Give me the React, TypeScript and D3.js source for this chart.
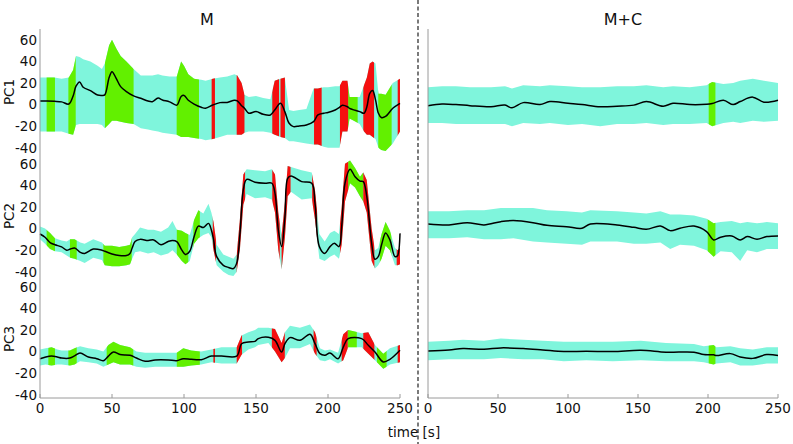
import * as d3 from 'd3';

// ---- data (time in s, values per PC) ----

// M, PC1
const mPc1T = [0, 5, 10, 15, 20, 23, 25, 27.5, 30, 35, 40, 43, 45, 48, 50, 53, 56, 60, 65, 70, 75, 78, 82, 85, 90, 95, 98, 100, 103, 107, 112, 115, 120, 125, 130, 135, 137, 140, 142, 145, 150, 155, 160, 163, 167, 170, 173, 176, 180, 185, 190, 193, 197, 200, 205, 208, 210, 213.5, 215, 222, 225, 227, 229, 231, 233, 235, 237, 240, 245, 250];
const mPc1Mean = [3.3, 3.3, 3, 2.5, 0.5, 8, 17, 21, 16, 12.9, 8.9, 8.5, 9, 25, 30.5, 24, 16.6, 12, 8, 5.8, 3.3, 2.7, 6, 4.3, 2.5, -0.5, 7.5, 8.5, 4, 0.5, -2.5, -3.4, -0.4, 1.8, 2, 4, 3.5, -1, -3.4, -8, -6.5, -9, -9.6, -5, 1.2, -6.5, -17.3, -20.4, -19.8, -18.9, -15.8, -9.6, -8, -7.3, -5, -2.5, -0.6, -2, -3.5, -6.5, -8, -2, 10.4, 13, 4.3, -8, -12, -11, -3.4, 1.2];
const mPc1Hi = [25, 25, 25, 24, 25, 32, 45, 44, 42, 40, 36, 33, 38, 55, 60, 52, 45, 40, 33, 27, 27, 27, 28, 27, 26, 26, 40, 36, 28, 24, 23, 22, 24, 25, 26, 28, 27, 20, 9, 7, 8, 6, 5, 22, 24, 25, -5, -6, -5, -4, 15, 15, 16, 16, 17, 17, 22, 22, 7, 7, 18, 25, 38, 40, 38, 10, 10, 9, 20, 24];
const mPc1Lo = [-25, -25, -25, -25, -27, -28, -19, -18, -18, -18, -18, -19, -22, -18, -15, -15, -16, -17, -18, -22, -23, -24, -25, -26, -27, -28, -30, -30, -30, -31, -32, -33, -32, -30, -28, -28, -28, -28, -26, -25, -25, -25, -26, -28, -30, -31, -34, -34, -35, -36, -37, -37, -39, -40, -40, -40, -25, -25, -13, -18, -25, -28, -28, -30, -32, -40, -42, -43, -36, -25];
const mPc1Green = [[4.6, 10.4], [19.7, 24.8], [45.1, 65], [94.9, 110.4], [214, 220.6], [234.9, 244.2]];
const mPc1Red = [[119.2, 121.5], [136.6, 142], [161.3, 166], [167, 170.1], [190.3, 195.6], [208.3, 214], [224.5, 232], [248.4, 250]];

// M, PC2
const mPc2T = [0, 3.5, 7, 10.4, 15, 18.5, 21, 24, 28, 31, 37, 43, 45, 50, 55, 60, 62.5, 64, 66, 69.5, 75, 79, 84, 89, 92, 95, 98.5, 101, 104, 107, 110, 113.4, 117, 119, 120.5, 122.7, 127.3, 131, 134.3, 136.6, 138.9, 141.2, 143.5, 149.3, 156.3, 161, 163.2, 165.5, 167.8, 170.1, 172, 174.3, 181.7, 188.7, 191, 194, 197.7, 201.4, 204.4, 207.6, 209.5, 211.8, 215.3, 218.8, 222.2, 224.5, 226.9, 230.3, 232.6, 234.9, 237.2, 240, 243, 246.5, 248.4, 250];
const mPc2Mean = [-5, -8, -13, -15, -17, -20, -19, -18, -22, -23, -19, -20, -21, -23.5, -25, -25, -23, -18, -12, -10, -11, -10.5, -15, -12, -11, -12, -20, -24, -21, -7.5, 2.3, 1, 4.8, -1.3, -10, -26, -34, -36, -37, -32, -4, 36, 45.6, 43, 42, 42, 32.6, -1.3, -16.7, 11, 46.5, 48.7, 43.5, 42, 23, -16.7, -23, -16.7, -13.6, -16.7, 1.8, 42, 55, 48, 44, 43.5, 30, -13.6, -28.4, -26, -15, -4, -10.5, -26, -25, -4.4];
const mPc2Hi = [2, 0, -4, -9, -11, -12, -10, -10, -13, -14, -10, -13, -16, -16, -17, -16, -15, -8, -5, 1, -1, -1, -3, 1, 7, -1, -2, -4, -6, 8, 17, 14, 23, 15, 6, -15, -24, -26, -28, -24, 10, 50, 55, 54, 53, 55, 50, 15, -6, 25, 58, 57, 54, 52, 35, -5, -12, -4, -2, -5, 20, 60, 63, 56, 48, 52, 45, 0, -20, -18, -5, 6, -2, -18, -20, -18];
const mPc2Lo = [-10, -14, -19, -21, -22, -25, -27, -28, -30, -32, -27, -29, -34, -35, -35, -34, -33, -28, -22, -21, -23, -22, -25, -23, -20, -24, -30, -33, -30, -14, -9, -6, -4, -8, -20, -34, -40, -43, -44, -40, -18, 22, 32, 28, 29, 27, 15, -20, -38, -8, 30, 34, 27, 28, 8, -28, -30, -26, -24, -28, -15, 25, 42, 38, 30, 25, 15, -30, -37, -34, -28, -16, -20, -34, -34, -33];
const mPc2Green = [[4.6, 10.4], [20.8, 25.5], [44, 63.7], [95, 103], [106.5, 111], [214, 224.5], [236, 244]];
const mPc2Red = [[120, 122.2], [136.6, 142.4], [161.3, 166.5], [167.8, 174], [189, 192.5], [208.3, 214], [224.5, 232.2], [247.7, 250]];

// M, PC3
const mPc3T = [0, 4, 8, 12, 15, 20.8, 24, 27.8, 33.6, 39.4, 44, 47.5, 51, 55.6, 62.5, 67, 73, 80, 89, 95, 99.5, 105, 112, 119, 126, 136.6, 140, 144.7, 149.3, 151.6, 158.6, 163.2, 167.8, 170.1, 173.6, 180.5, 187.5, 191, 194.4, 197.9, 201.4, 207, 210.6, 214, 223.4, 228, 232.6, 238.4, 243, 250];
const mPc3Mean = [-6.6, -5, -4.2, -5, -6, -6, -4, -1.3, -5, -6.6, -8.4, -4.2, -0.4, -2.8, -3.4, -6, -9, -7.8, -7.8, -8.4, -6.6, -7.2, -7.5, -4.2, -4.2, -4.2, 7.3, 8.9, 9.5, 12, 13.2, 10.4, -0.4, 7.3, 12.9, 10.4, 16, 7.3, -1.9, -3.4, -1.3, -6.6, 4.2, 12, 12, 5.8, -0.4, -9.6, -7.2, 1.2];
const mPc3Hi = [2, 3, 4, 2, 1, 1, 3, 5, 3, 2, 0, 6, 9, 6, 4, 0, -1, -1, -1, -1, 3, 1, 0, 2, 4, 4, 15, 18, 20, 22, 22, 21, 8, 18, 24, 22, 25, 18, 3, 1, 2, -1, 16, 20, 17, 18, 6, -2, 3, 6];
const mPc3Lo = [-13, -12, -13, -12, -12, -13, -12, -9, -10, -11, -14, -12, -10, -12, -12, -14, -15, -14, -14, -14, -14, -13, -12, -10, -11, -11, -3, 2, 4, 6, 8, 0, -10, -6, 3, 3, 7, -2, -8, -9, -7, -11, -8, 4, 4, -2, -8, -16, -12, -10];
const mPc3Green = [[5.8, 10.4], [19.7, 25.5], [46.3, 64.8], [95, 111], [213.7, 220], [234, 240.7]];
const mPc3Red = [[120.4, 121.5], [136.6, 140.3], [161, 170], [190, 192.1], [209.5, 213.7], [224.5, 232.2], [248.4, 250]];

// M+C, PC1
const mcPc1T = [0, 10, 20, 30, 45, 55, 60, 68, 80, 87, 100, 110, 123, 135, 147, 156, 168, 175, 187, 199, 203, 211, 218, 223, 232, 240, 250];
const mcPc1Mean = [-1, 0.5, 0, -1, -2, -0.5, -3, 1.8, 0, 2.8, 1.2, 0, -2, -1.5, -0.5, 2.8, -1.5, 1.2, 0, 0.3, 1, 4, 0, 2.8, 6.9, 2.2, 4];
const mcPc1Hi = [16, 17, 17, 16, 16, 17, 15, 18, 17, 18, 17, 16, 16, 17, 17, 18, 16, 17, 16, 18, 21, 19, 20, 22, 24, 22, 20];
const mcPc1Lo = [-17, -17, -18, -18, -18, -18, -20, -17, -18, -17, -19, -18, -20, -18, -18, -17, -19, -18, -18, -17, -20, -17, -16, -17, -15, -16, -15];
const mcPc1Green = [[200.5, 205.3]];

// M+C, PC2
const mcPc2T = [0, 15, 28, 40, 52, 61, 75, 85, 99, 110, 116, 135, 147, 156, 166, 173, 180, 190, 199, 204, 209, 217, 223, 228, 235, 242, 250];
const mcPc2Mean = [4.3, 3.4, 5.5, 3.4, 6.4, 7.4, 5.5, 3, 1.8, 0.3, 4.3, 3.4, 1.2, -0.7, 2.4, -1.9, 0.3, 2.4, -2.8, -10.5, -8, -6.8, -10.5, -7.4, -9.9, -7.4, -6.8];
const mcPc2Hi = [16, 16, 17, 17, 19, 19, 19, 17, 16, 15, 17, 16, 15, 14, 16, 13, 13, 12, 9, 5, 6, 7, 5, 6, 5, 6, 5];
const mcPc2Lo = [-9, -9, -8, -10, -10, -9, -12, -13, -14, -15, -12, -12, -14, -14, -13, -19, -15, -16, -20, -26, -21, -22, -30, -20, -22, -19, -19];
const mcPc2Green = [[199.8, 205.3]];

// M+C, PC3
const mcPc3T = [0, 15, 25, 40, 52, 68, 82, 97, 113, 132, 152, 170, 190, 197, 204, 206, 216, 223, 232, 242, 250];
const mcPc3Mean = [0.6, 1.5, 2.8, 2.1, 3.4, 2.8, 1.5, 0, 0.3, 0, 1.2, -0.6, -0.6, -2.8, -3, -3.7, -1.9, -5, -6.3, -2.8, -3.7];
const mcPc3Hi = [9, 10, 11, 10, 12, 11, 10, 9, 9, 9, 10, 8, 7, 5, 6, 4, 5, 3, 2, 4, 4];
const mcPc3Lo = [-8, -7, -7, -7, -6, -7, -7, -9, -8, -9, -8, -9, -9, -10, -12, -11, -10, -13, -13, -11, -11];
const mcPc3Green = [[200.5, 205.3]];

const rowLabels = ['PC1', 'PC2', 'PC3'];
const panelTitles = ['M', 'M+C'];
const yTicks = [-40, -20, 0, 20, 40, 60];
const xTicks = [0, 50, 100, 150, 200, 250];

// ---- layout ----
const W = 793;
const H = 444;
const rowTops = [29, 153, 276];
const rowH = 122;
const axisBottom = 398;
const font = '"DejaVu Sans", Verdana, sans-serif';
const CYAN = '#7ff5dc';
const GREEN = '#62f000';
const RED = '#f50f0f';
const AXIS = '#9a9a9a';

type Sub = { t: number[]; mean: number[]; hi: number[]; lo: number[]; green: number[][]; red: number[][] };

const panels: { title: string; titleX: number; range: [number, number]; yLabels: boolean; subs: Sub[] }[] = [
  {
    title: panelTitles[0], titleX: 207, range: [40, 400], yLabels: true,
    subs: [
      { t: mPc1T, mean: mPc1Mean, hi: mPc1Hi, lo: mPc1Lo, green: mPc1Green, red: mPc1Red },
      { t: mPc2T, mean: mPc2Mean, hi: mPc2Hi, lo: mPc2Lo, green: mPc2Green, red: mPc2Red },
      { t: mPc3T, mean: mPc3Mean, hi: mPc3Hi, lo: mPc3Lo, green: mPc3Green, red: mPc3Red },
    ],
  },
  {
    title: panelTitles[1], titleX: 623, range: [428, 778], yLabels: false,
    subs: [
      { t: mcPc1T, mean: mcPc1Mean, hi: mcPc1Hi, lo: mcPc1Lo, green: mcPc1Green, red: [] },
      { t: mcPc2T, mean: mcPc2Mean, hi: mcPc2Hi, lo: mcPc2Lo, green: mcPc2Green, red: [] },
      { t: mcPc3T, mean: mcPc3Mean, hi: mcPc3Hi, lo: mcPc3Lo, green: mcPc3Green, red: [] },
    ],
  },
];

export default function App() {
  return (
    <svg width={W} height={H} style={{ position: 'absolute', left: 0, top: 0, background: '#fff' }} fontFamily={font}>
      {panels.map((p, pi) => {
        const x = d3.scaleLinear().domain([0, 250]).range(p.range);
        return (
          <g key={pi}>
            <text x={p.titleX} y={25} fontSize={16} textAnchor="middle" fill="#111">{p.title}</text>
            {p.subs.map((s, ri) => {
              const top = rowTops[ri];
              const y = d3.scaleLinear().domain([-43, 70]).range([top + rowH, top]);
              const idx = d3.range(s.t.length);
              const area = d3.area<number>()
                .x((i) => x(s.t[i]))
                .y0((i) => y(s.lo[i]))
                .y1((i) => y(s.hi[i]));
              const line = d3.line<number>()
                .x((i) => x(s.t[i]))
                .y((i) => y(s.mean[i]))
                .curve(d3.curveCatmullRom.alpha(0.5));
              const bandPath = area(idx) || '';
              const marks = [
                ...s.green.map((g) => ({ a: g[0], b: g[1], c: GREEN })),
                ...s.red.map((r) => ({ a: r[0], b: r[1], c: RED })),
              ];
              return (
                <g key={ri}>
                  <defs>
                    {marks.map((m, mi) => (
                      <clipPath id={`clip-${pi}-${ri}-${mi}`} key={mi}>
                        <rect x={x(m.a)} y={top - 10} width={x(m.b) - x(m.a)} height={rowH + 20} />
                      </clipPath>
                    ))}
                  </defs>
                  <path d={bandPath} fill={CYAN} />
                  {marks.map((m, mi) => (
                    <path key={mi} d={bandPath} fill={m.c} clipPath={`url(#clip-${pi}-${ri}-${mi})`} />
                  ))}
                  <path d={line(idx) || ''} fill="none" stroke="#000" strokeWidth={1.5} />
                  {p.yLabels && yTicks.map((v) => (
                    <text key={v} x={37} y={y(v)} dy="0.36em" fontSize={13.5} textAnchor="end" fill="#111">{v}</text>
                  ))}
                  {p.yLabels && (
                    <text transform={`translate(14,${top + rowH / 2 + 2}) rotate(-90)`} fontSize={13.5} textAnchor="middle" fill="#111">
                      {rowLabels[ri]}
                    </text>
                  )}
                </g>
              );
            })}
            <line x1={p.range[0]} x2={p.range[0]} y1={rowTops[0]} y2={axisBottom} stroke={AXIS} strokeWidth={1} />
            <line x1={p.range[0]} x2={p.range[1]} y1={axisBottom} y2={axisBottom} stroke={AXIS} strokeWidth={1} />
            {xTicks.map((v) => (
              <g key={v}>
                <line x1={x(v)} x2={x(v)} y1={axisBottom} y2={axisBottom - 4} stroke={AXIS} />
                <text x={x(v)} y={413} fontSize={13.5} textAnchor="middle" fill="#111">{v}</text>
              </g>
            ))}
          </g>
        );
      })}
      <line x1={418} x2={418} y1={0} y2={H} stroke="#333" strokeWidth={1.3} strokeDasharray="4,2.5" />
      <text x={414} y={437} fontSize={13.5} textAnchor="middle" fill="#111">time [s]</text>
    </svg>
  );
}
